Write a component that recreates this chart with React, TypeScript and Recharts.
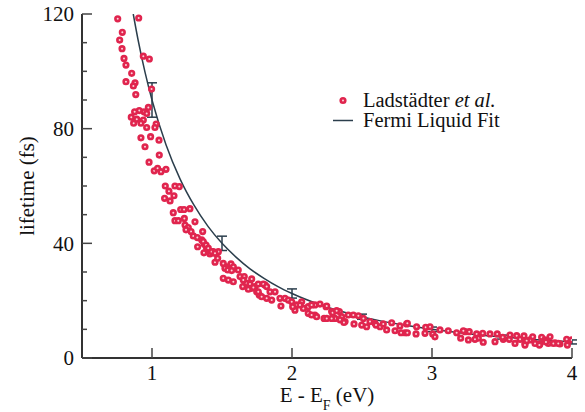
import React from 'react';
import { ComposedChart, XAxis, YAxis, Scatter, Line, ErrorBar, Legend } from 'recharts';

// Ladstädter et al. data: energy above Fermi level (eV) and lifetime (fs)
const ladE = [
  0.755, 0.905, 0.788, 0.769, 0.786, 0.938, 0.981, 0.8, 0.814, 0.855, 0.814, 0.879, 0.867, 0.997, 0.884,
  0.974, 0.909, 0.876, 0.943, 0.962, 0.852, 0.891, 0.938, 0.869, 0.921, 1.03, 0.962, 1.021,
  0.921, 0.99, 1.05, 0.95, 1.052, 0.979, 1.016, 1.04, 1.064, 1.1, 1.095, 1.164, 1.195, 1.121, 1.09, 1.129,
  1.157, 1.205, 1.229, 1.271, 1.152, 1.164, 1.188, 1.231, 1.307, 1.236, 1.259, 1.243, 1.279, 1.295, 1.324,
  1.362, 1.326, 1.355, 1.374, 1.39, 1.371, 1.414, 1.438, 1.474, 1.45, 1.469, 1.509, 1.534, 1.564, 1.521,
  1.541, 1.581, 1.616, 1.509, 1.545, 1.581, 1.629, 1.659, 1.648, 1.676, 1.7, 1.712, 1.688, 1.736, 1.748,
  1.766, 1.366, 1.386, 1.402, 1.426, 1.45, 1.569, 1.652, 1.724, 1.759, 1.807, 1.759, 1.783, 1.819, 1.855,
  1.843, 1.879, 1.914, 1.921, 1.95, 1.974, 1.998, 2.033, 2.021, 2.069, 2.081, 2.116, 2.116, 2.164, 2.164,
  2.2, 2.229, 2.248, 1.712, 1.795, 1.819, 2.005, 2.057, 2.14, 2.14, 2.176, 2.243, 2.283, 2.307, 2.338,
  2.355, 2.379, 2.402, 2.438, 2.443, 2.498, 2.533, 2.557, 2.593, 2.629, 2.676, 2.712, 2.736, 2.771, 2.807,
  2.819, 2.89, 2.886, 2.95, 2.955, 2.986, 3.005, 3.021, 3.057, 3.116, 3.176, 3.205, 3.236, 3.26, 3.266,
  3.319, 3.331, 3.366, 3.362, 3.414, 3.45, 3.466, 3.509, 3.552, 3.557, 3.593, 3.605, 3.629, 3.657, 3.664,
  3.7, 3.719, 3.736, 3.771, 3.783, 3.807, 3.831, 3.843, 3.879, 3.914, 3.962, 3.967, 3.998,
  2.248, 2.29, 2.319, 2.283, 2.343, 2.371, 2.474, 2.51, 2.6, 2.652, 2.779, 2.824, 2.824,
  3.224, 3.307, 3.505, 3.676, 3.664, 3.767, 3.814, 3.867, 3.902,
];
const ladTau = [
  118.3, 118.6, 113.6, 110.9, 107.9, 105.3, 104.3, 104.5, 102.2, 99.3, 96.4, 96.0, 94.9, 93.8, 91.9,
  87.4, 86.3, 85.9, 85.9, 85.3, 84.0, 83.3, 83.0, 81.9, 81.9, 81.6, 80.4, 80.4,
  76.8, 77.2, 76.0, 73.7, 70.8, 68.3, 65.3, 66.2, 65.0, 65.8, 60.0, 60.0, 59.8, 58.2, 55.7, 54.8,
  56.6, 51.8, 51.8, 52.1, 50.7, 47.9, 47.9, 48.7, 47.5, 46.4, 45.5, 44.7, 44.1, 42.6, 42.0,
  44.1, 38.8, 41.2, 39.7, 38.3, 36.7, 36.3, 37.1, 37.1, 33.4, 34.8, 33.0, 31.8, 32.8, 31.3,
  30.7, 31.8, 30.7, 27.8, 27.2, 26.6, 28.4, 28.4, 24.9, 26.1, 25.8, 24.3, 24.0, 24.9, 23.1,
  22.0, 40.6, 39.4, 38.3, 37.1, 36.5, 30.5, 27.2, 24.6, 25.8, 25.5, 23.1, 21.4, 20.8, 20.2,
  23.1, 23.1, 20.8, 18.1, 20.8, 20.2, 19.6, 18.5, 16.7, 19.6, 17.3, 17.9, 15.6, 18.5, 15.0,
  18.8, 13.8, 13.8, 27.6, 25.8, 24.9, 17.9, 18.5, 18.5, 15.0, 14.4, 17.9, 16.2, 13.8, 16.2,
  14.4, 12.7, 15.0, 15.0, 11.9, 11.5, 10.9, 12.7, 12.1, 10.9, 9.8, 12.3, 9.5, 11.2, 8.8,
  11.9, 10.9, 8.4, 8.6, 10.7, 10.9, 8.4, 7.4, 9.8, 9.5, 8.8, 6.9, 9.2, 6.3, 9.2,
  8.4, 6.9, 5.5, 8.6, 8.4, 5.7, 8.4, 6.5, 6.5, 8.0, 5.1, 7.8, 6.5, 7.7, 5.1,
  6.3, 7.4, 5.1, 4.9, 7.2, 6.3, 5.1, 7.4, 5.3, 4.9, 6.5, 4.5, 6.3,
  18.1, 15.8, 16.5, 13.8, 13.3, 12.4, 14.7, 13.8, 11.5, 11.9, 8.8, 12.1, 8.8,
  9.5, 6.5, 7.2, 6.0, 4.5, 4.5, 5.6, 5.1, 5.1,
];

// Fermi liquid fit curve
const fitE = [0.866, 0.9, 0.95, 1.0, 1.1, 1.2, 1.3, 1.4, 1.5, 1.6, 1.7, 1.8, 1.9, 2.0, 2.2, 2.4, 2.6, 2.8, 3.0, 3.25, 3.5, 3.75, 4.0];
const fitTau = [120, 111.1, 99.7, 90, 74.4, 62.5, 53.3, 45.9, 40, 35.2, 31.1, 27.8, 24.9, 22.5, 18.6, 15.6, 13.3, 11.5, 10, 8.5, 7.3, 6.4, 5.6];

// error bars on the fit
const errE = [1, 1.5, 2, 2.5, 3, 3.5, 4];
const errTau = [90, 40, 22.5, 14.4, 10, 7.3, 5.6];
const errDelta = [6, 2.5, 1.6, 0.9, 0.8, 0.7, 0.7];

const xTicks = [1, 2, 3, 4];
const yTicks = [0, 10, 20, 30, 40, 50, 60, 70, 80, 90, 100, 110, 120];
const yLabelTicks = [0, 40, 80, 120];

const seriesNames = ['Ladstädter et al.', 'Fermi Liquid Fit'];

const ladData = ladE.map((x, i) => ({ x, y: ladTau[i] }));
const fitData = fitE.map((x, i) => ({ x, y: fitTau[i] }));
const errData = errE.map((x, i) => ({ x, y: errTau[i], err: errDelta[i] }));

const FONT = '"Liberation Serif", "Times New Roman", serif';
const DOT = '#e0254e';
const DOT_FILL = '#fbd3da';
const FIT = '#2b3e4c';
const AXIS = '#333';
const TICK = '#444';

const LeftTick = (props: any) => {
  const { x, y, payload } = props;
  const major = yLabelTicks.includes(payload.value);
  return (
    <g>
      <line x1={x} x2={x + (major ? 10 : 5)} y1={y} y2={y} stroke={TICK} strokeWidth={1.5} />
      {major && (
        <text x={x - 8} y={y} dy="0.35em" textAnchor="end" fontFamily={FONT} fontSize={21} fill="#111">
          {payload.value}
        </text>
      )}
    </g>
  );
};

const RightTick = (props: any) => {
  const { x, y, payload } = props;
  const major = yLabelTicks.includes(payload.value);
  return <line x1={x} x2={x - (major ? 10 : 5)} y1={y} y2={y} stroke={TICK} strokeWidth={1.5} />;
};

const BottomTick = (props: any) => {
  const { x, y, payload } = props;
  return (
    <g>
      <line x1={x} x2={x} y1={y} y2={y - 10} stroke={TICK} strokeWidth={1.5} />
      <text x={x} y={y + 22} textAnchor="middle" fontFamily={FONT} fontSize={21} fill="#111">
        {payload.value}
      </text>
    </g>
  );
};

const TopTick = (props: any) => {
  const { x, y } = props;
  return <line x1={x} x2={x} y1={y} y2={y + 10} stroke={TICK} strokeWidth={1.5} />;
};

const XLabel = (props: any) => {
  const vb = props.viewBox || { x: 0, y: 0, width: 0, height: 0 };
  const cx = vb.x + vb.width / 2;
  return (
    <text x={cx} y={vb.y + 44} textAnchor="middle" fontFamily={FONT} fontSize={21} fill="#111">
      E - E
      <tspan fontSize={14} dy={8}>F</tspan>
      <tspan dy={-8}> (eV)</tspan>
    </text>
  );
};

const YLabel = (props: any) => {
  const vb = props.viewBox || { x: 0, y: 0, width: 0, height: 0 };
  const cx = vb.x + 34;
  const cy = vb.y + vb.height / 2;
  return (
    <text x={cx} y={cy} transform={`rotate(-90, ${cx}, ${cy})`} textAnchor="middle" fontFamily={FONT} fontSize={21} fill="#111">
      lifetime (fs)
    </text>
  );
};

const renderLegend = (props: any) => {
  const items = (props.payload || [])
    .filter((p: any) => p.type !== 'none' && seriesNames.includes(String(p.value)))
    .sort((a: any, b: any) => seriesNames.indexOf(String(a.value)) - seriesNames.indexOf(String(b.value)));
  return (
    <svg width={250} height={50} style={{ display: 'block' }}>
      {items.map((it: any, i: number) => {
        const cy = 15.5 + i * 20;
        const name = String(it.value);
        const idx = name.indexOf(' et al.');
        return (
          <g key={i}>
            {it.type === 'line' ? (
              <line x1={3} x2={23} y1={cy} y2={cy} stroke={FIT} strokeWidth={1.5} />
            ) : (
              <circle cx={13} cy={cy} r={2.3} fill={DOT_FILL} stroke={DOT} strokeWidth={2.6} />
            )}
            <text x={33} y={cy + 6} fontFamily={FONT} fontSize={20.5} fill="#111">
              {idx >= 0 ? (
                <>
                  {name.slice(0, idx)}{' '}
                  <tspan fontStyle="italic">{name.slice(idx + 1)}</tspan>
                </>
              ) : (
                name
              )}
            </text>
          </g>
        );
      })}
    </svg>
  );
};

const DotShape = (props: any) => {
  const { cx, cy } = props;
  if (cx == null || cy == null) return <g />;
  return <circle cx={cx} cy={cy} r={2.3} fill={DOT_FILL} stroke={DOT} strokeWidth={2.6} />;
};

export default function App() {
  return (
    <div style={{ position: 'absolute', left: 0, top: 0, background: '#fff' }}>
      <ComposedChart width={585} height={412} margin={{ top: 14, right: 13, bottom: 0, left: 0 }}>
        <XAxis
          xAxisId="b"
          type="number"
          dataKey="x"
          domain={[0.5, 4]}
          ticks={xTicks}
          interval={0}
          allowDataOverflow
          height={54}
          tickSize={0}
          tickMargin={0}
          tickLine={false}
          axisLine={{ stroke: AXIS, strokeWidth: 2 }}
          tick={<BottomTick />}
          label={<XLabel />}
        />
        <XAxis
          xAxisId="t"
          orientation="top"
          type="number"
          dataKey="x"
          domain={[0.5, 4]}
          ticks={xTicks}
          interval={0}
          allowDataOverflow
          height={0}
          tickSize={0}
          tickMargin={0}
          tickLine={false}
          axisLine={{ stroke: AXIS, strokeWidth: 2 }}
          tick={<TopTick />}
        />
        <YAxis
          yAxisId="l"
          type="number"
          dataKey="y"
          domain={[0, 120]}
          ticks={yTicks}
          interval={0}
          allowDataOverflow
          width={82}
          tickSize={0}
          tickMargin={0}
          tickLine={false}
          axisLine={{ stroke: AXIS, strokeWidth: 2 }}
          tick={<LeftTick />}
          label={<YLabel />}
        />
        <YAxis
          yAxisId="r"
          orientation="right"
          type="number"
          dataKey="y"
          domain={[0, 120]}
          ticks={yTicks}
          interval={0}
          allowDataOverflow
          width={0}
          tickSize={0}
          tickMargin={0}
          tickLine={false}
          axisLine={{ stroke: AXIS, strokeWidth: 2 }}
          tick={<RightTick />}
        />
        <Scatter
          name={seriesNames[0]}
          xAxisId="b"
          yAxisId="l"
          data={ladData}
          shape={<DotShape />}
          isAnimationActive={false}
        />
        <Line
          name={seriesNames[1]}
          xAxisId="b"
          yAxisId="l"
          data={fitData}
          dataKey="y"
          type="monotone"
          stroke={FIT}
          strokeWidth={1.5}
          dot={false}
          activeDot={false}
          isAnimationActive={false}
        />
        <Scatter
          name="err"
          legendType="none"
          xAxisId="b"
          yAxisId="l"
          data={errData}
          shape={() => <g />}
          isAnimationActive={false}
        >
          <ErrorBar dataKey="err" direction="y" width={5} stroke={FIT} strokeWidth={1.5} isAnimationActive={false} />
        </Scatter>
        <Legend
          layout="horizontal"
          align="center"
          verticalAlign="middle"
          content={renderLegend}
          wrapperStyle={{ position: 'absolute', left: 330, top: 85, width: 250, height: 50 }}
        />
      </ComposedChart>
    </div>
  );
}
